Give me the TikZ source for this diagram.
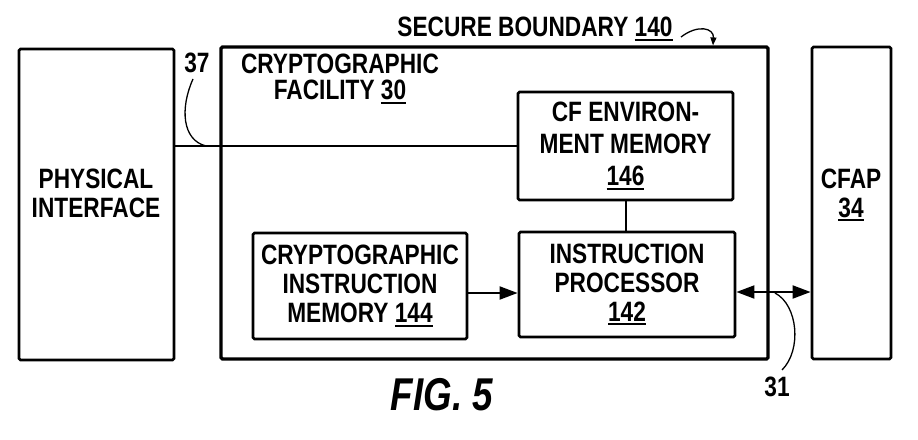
\documentclass[tikz,border=0pt]{standalone}
\usepackage{fontspec}
\setmainfont{Liberation Sans}
\newfontfamily\lab{Liberation Sans Bold}[FakeStretch=0.81]
\newfontfamily\figf{Liberation Sans Bold Italic}[FakeStretch=0.8]
\usetikzlibrary{arrows.meta}
\newcommand{\ulab}[1]{\begingroup\setbox0\hbox{#1}\rlap{\rule[-4pt]{\wd0}{1.8pt}}\box0\endgroup}
\begin{document}
\begin{tikzpicture}[x=1pt,y=-1pt,
  box/.style={draw, line width=2.8pt, rounded corners=1.5pt, inner sep=0pt},
  txt/.style={font=\lab\fontsize{28}{29}\selectfont, align=center, inner sep=0pt},
  conn/.style={line width=2pt},
  lead/.style={line width=1.3pt},
  arr/.style={conn, -{Triangle[length=18pt,width=13pt]}},
  darr/.style={conn, {Triangle[length=18pt,width=13pt]}-{Triangle[length=18pt,width=13pt]}}
]
\useasboundingbox (0,0) rectangle (918,439);
% outer boxes
\node[box, minimum width=155pt, minimum height=311pt] (pi) at (96.5,204.5) {};
\node[box, line width=3.2pt, minimum width=547pt, minimum height=312pt] (bound) at (494.5,203) {};
\node[box, minimum width=79pt, minimum height=312pt] (cfap) at (851.5,203) {};
% inner boxes
\node[box, txt, font=\lab\fontsize{28}{32}\selectfont, minimum width=215pt, minimum height=108pt] (cfe) at (625.5,146) {CF ENVIRON-\\MENT MEMORY\\\ulab{146}};
\node[box, txt, minimum width=216pt, minimum height=105pt] (ip) at (627,284.5) {INSTRUCTION\\PROCESSOR\\\ulab{142}};
\node[box, txt, minimum width=214pt, minimum height=106pt] (cim) at (360,286) {CRYPTOGRAPHIC\\INSTRUCTION\\MEMORY \ulab{144}};
% texts
\node[txt] (pitext) at (96,193) {PHYSICAL\\INTERFACE};
\node[txt] (cfaptext) at (851,195) {CFAP\\\ulab{34}};
\node[txt, font=\lab\fontsize{28}{26}\selectfont] (cftext) at (340,79) {CRYPTOGRAPHIC\\FACILITY \ulab{30}};
\node[txt] (sbtext) at (535,29) {SECURE BOUNDARY \ulab{140}};
\node[txt] (l37) at (197,63) {37};
\node[txt] (l31) at (777,387) {31};
\node[font=\figf\fontsize{46}{46}\selectfont, inner sep=0pt] (fig) at (442,395) {FIG. 5};
% connectors
\draw[conn] (cfe.west) -- (cfe.west -| pi.east);
\draw[conn] (cfe.south) -- (cfe.south |- ip.north);
\draw[arr] ([yshift=-7pt]cim.east) -- ([yshift=-7pt]cim.east -| ip.west);
\draw[darr] ([yshift=-7.5pt]ip.east) -- ([yshift=-7.5pt]ip.east -| cfap.west);
% leaders
\coordinate (s37) at (193,79);
\coordinate (e37) at (206,146);
\draw[lead] (s37) .. controls (180,108) and (182,140) .. (e37);
\coordinate (s31) at (775,293);
\coordinate (e31) at (782,370);
\draw[lead] (s31) .. controls (798,305) and (802,350) .. (e31);
\coordinate (ssb) at (681,37);
\draw[lead, -{Triangle[length=8pt,width=6pt]}] (ssb) .. controls (698,24) and (714,28) .. (bound.north -| 713,0);
\end{tikzpicture}
\end{document}
